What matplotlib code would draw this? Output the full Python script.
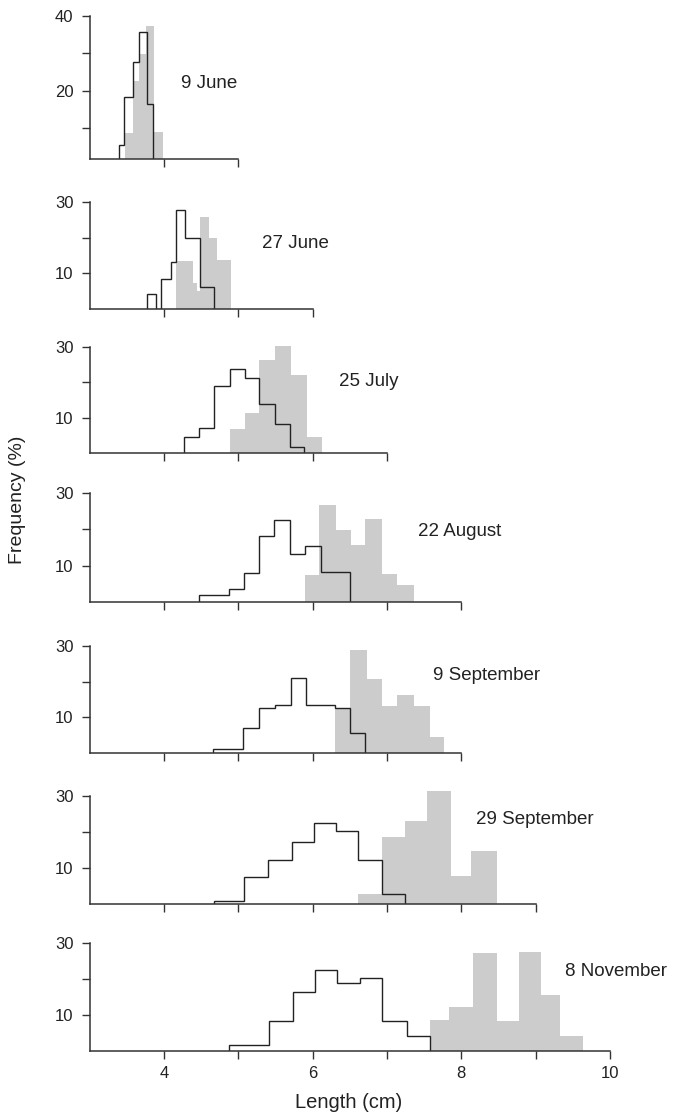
import matplotlib
matplotlib.use("Agg")
import matplotlib.pyplot as plt

plt.rcParams['font.family'] = ['Liberation Sans', 'DejaVu Sans']

# ---------------- data (bin edges in cm, frequencies in %) ----------------
DATES = ["9 June", "27 June", "25 July", "22 August", "9 September",
         "29 September", "8 November"]
XMAX = [5, 6, 7, 8, 8, 9, 10]

# 9 June
JUN9_OUT_EDGES = [3.40, 3.47, 3.58, 3.66, 3.77, 3.86]
JUN9_OUT_FREQ = [5.4, 18.4, 27.6, 35.6, 16.5]
JUN9_FILL_EDGES = [3.48, 3.58, 3.67, 3.76, 3.87, 3.99]
JUN9_FILL_FREQ = [8.6, 22.7, 29.8, 37.3, 9.0]

# 27 June
JUN27_OUT_EDGES = [3.78, 3.89, 3.96, 4.09, 4.17, 4.28, 4.48, 4.68]
JUN27_OUT_FREQ = [4.0, 0.0, 8.2, 13.2, 27.7, 19.8, 6.0]
JUN27_FILL_EDGES = [4.17, 4.39, 4.44, 4.48, 4.61, 4.71, 4.90]
JUN27_FILL_FREQ = [13.4, 7.1, 4.9, 25.9, 19.9, 13.8]

# 25 July
JUL25_OUT_EDGES = [4.27, 4.47, 4.68, 4.89, 5.09, 5.28, 5.50, 5.70, 5.89]
JUL25_OUT_FREQ = [4.6, 7.1, 18.9, 23.7, 21.1, 13.9, 8.2, 1.8]
JUL25_FILL_EDGES = [4.89, 5.09, 5.28, 5.49, 5.71, 5.93, 6.13]
JUL25_FILL_FREQ = [6.7, 11.4, 26.2, 30.4, 22.0, 4.5]

# 22 August
AUG22_OUT_EDGES = [4.47, 4.87, 5.08, 5.28, 5.48, 5.70, 5.90, 6.11, 6.51]
AUG22_OUT_FREQ = [1.9, 3.7, 8.0, 18.2, 22.5, 13.1, 15.5, 8.3]
AUG22_FILL_EDGES = [5.90, 6.09, 6.32, 6.52, 6.70, 6.93, 7.14, 7.37]
AUG22_FILL_FREQ = [7.5, 26.7, 19.8, 15.6, 22.8, 7.6, 4.8]

# 9 September
SEP9_OUT_EDGES = [4.66, 5.06, 5.28, 5.49, 5.71, 5.91, 6.30, 6.51, 6.71]
SEP9_OUT_FREQ = [1.1, 7.1, 12.7, 13.6, 21.1, 13.6, 12.7, 5.7]
SEP9_FILL_EDGES = [6.30, 6.51, 6.73, 6.94, 7.13, 7.37, 7.58, 7.77]
SEP9_FILL_FREQ = [12.7, 28.9, 20.7, 13.2, 16.4, 13.2, 4.4]

# 29 September
SEP29_OUT_EDGES = [4.68, 5.08, 5.40, 5.73, 6.02, 6.32, 6.61, 6.94, 7.24]
SEP29_OUT_FREQ = [0.9, 7.5, 12.2, 17.4, 22.6, 20.4, 12.2, 3.0]
SEP29_FILL_EDGES = [6.61, 6.94, 7.24, 7.54, 7.86, 8.13, 8.48]
SEP29_FILL_FREQ = [3.0, 18.7, 23.2, 31.4, 7.9, 14.8]

# 8 November
NOV8_OUT_EDGES = [4.87, 5.41, 5.735, 6.03, 6.33, 6.635, 6.94, 7.27, 7.575]
NOV8_OUT_FREQ = [1.7, 8.3, 16.3, 22.4, 19.0, 20.4, 8.3, 4.2]
NOV8_FILL_EDGES = [7.575, 7.84, 8.16, 8.48, 8.77, 9.07, 9.33, 9.64]
NOV8_FILL_FREQ = [8.6, 12.4, 27.2, 8.4, 27.4, 15.6, 4.3]

OUT_EDGES = [JUN9_OUT_EDGES, JUN27_OUT_EDGES, JUL25_OUT_EDGES, AUG22_OUT_EDGES,
             SEP9_OUT_EDGES, SEP29_OUT_EDGES, NOV8_OUT_EDGES]
OUT_FREQ = [JUN9_OUT_FREQ, JUN27_OUT_FREQ, JUL25_OUT_FREQ, AUG22_OUT_FREQ,
            SEP9_OUT_FREQ, SEP29_OUT_FREQ, NOV8_OUT_FREQ]
FILL_EDGES = [JUN9_FILL_EDGES, JUN27_FILL_EDGES, JUL25_FILL_EDGES, AUG22_FILL_EDGES,
              SEP9_FILL_EDGES, SEP29_FILL_EDGES, NOV8_FILL_EDGES]
FILL_FREQ = [JUN9_FILL_FREQ, JUN27_FILL_FREQ, JUL25_FILL_FREQ, AUG22_FILL_FREQ,
             SEP9_FILL_FREQ, SEP29_FILL_FREQ, NOV8_FILL_FREQ]

# ---------------- layout (pixels) ----------------
W, H = 676, 1118
LEFT_PX, RIGHT_PX = 89.5, 610.0
# (top-tick pixel, baseline pixel, y at baseline, top tick value)
PANEL_PX = [(15.7, 158.6, 1.9, 40), (202.0, 308.6, 0, 30), (347.0, 452.9, 0, 30),
            (492.9, 602.0, 0, 30), (646.4, 752.9, 0, 30), (796.4, 904.3, 0, 30),
            (942.9, 1051.4, 0, 30)]
LABEL_PX = [(181, 83), (262, 244), (339, 382), (418, 531), (433, 676),
            (476, 819), (565, 972)]

SPINE = '#333333'
FILL = '#cccccc'

fig = plt.figure(figsize=(W / 100, H / 100), dpi=100)

for i in range(7):
    top_px, base_px, ybot, ytop = PANEL_PX[i]
    scale = (base_px - top_px) / (ytop - ybot)
    ylim_top = ytop + (2 if ytop == 30 else 1)
    ax_top_px = top_px - (ylim_top - ytop) * scale
    ax = fig.add_axes([LEFT_PX / W, 1 - base_px / H,
                       (RIGHT_PX - LEFT_PX) / W, (base_px - ax_top_px) / H])
    ax.set_xlim(3, 10)
    ax.set_ylim(ybot, ylim_top)
    ax.patch.set_visible(False)

    ax.stairs(FILL_FREQ[i], FILL_EDGES[i], fill=True, color=FILL,
              baseline=ybot, linewidth=0, zorder=1)
    ax.stairs(OUT_FREQ[i], OUT_EDGES[i], fill=False, color='#222222',
              baseline=ybot, linewidth=1.0, zorder=2)

    for s in ('top', 'right'):
        ax.spines[s].set_visible(False)
    for s in ('left', 'bottom'):
        ax.spines[s].set_color(SPINE)
        ax.spines[s].set_linewidth(1.1)
    ax.spines['left'].set_bounds(ybot, ytop)
    ax.spines['bottom'].set_bounds(3, XMAX[i])

    if ytop == 40:
        ax.set_yticks([10, 20, 30, 40], labels=['', '20', '', '40'])
    else:
        ax.set_yticks([10, 20, 30], labels=['10', '', '30'])
    xt = list(range(4, XMAX[i] + 1))
    if i == 6:
        xl = [str(v) if v % 2 == 0 else '' for v in xt]
    else:
        xl = ['' for v in xt]
    ax.set_xticks(xt, labels=xl)
    ax.tick_params(axis='both', colors=SPINE, labelcolor='#222222',
                   labelsize=12, width=1.0)
    ax.tick_params(axis='y', length=6, pad=5.5)
    ax.tick_params(axis='x', length=5.5, pad=5)

    lx, ly = LABEL_PX[i]
    fig.text(lx / W, 1 - ly / H, DATES[i], fontsize=13.5, color='#222222',
             ha='left', va='center')

fig.text(18 / W, 1 - 500 / H, 'Frequency (%)', rotation=90, fontsize=14,
         color='#222222', ha='center', va='center')
fig.text(349 / W, 1 - 1103 / H, 'Length (cm)', fontsize=14.5,
         color='#222222', ha='center', va='center')

fig.savefig('out.png', dpi=100)
